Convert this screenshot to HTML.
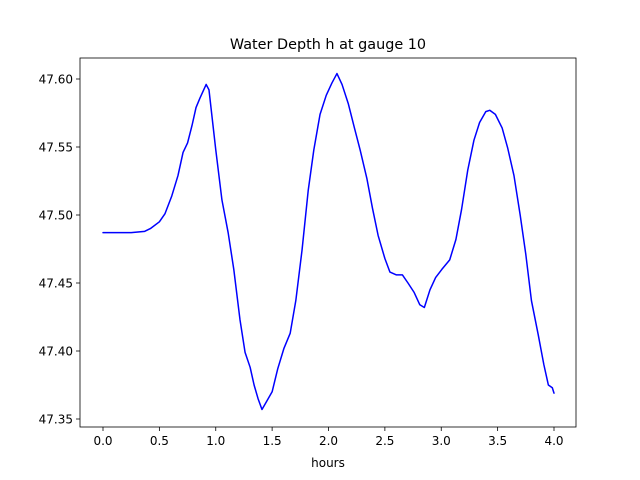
<!DOCTYPE html>
<html><head><meta charset="utf-8"><style>
body{margin:0;background:#fff;}
svg{display:block;font-family:"DejaVu Sans","Liberation Sans",sans-serif;}
</style></head><body>
<svg id="c" width="640" height="480">
<rect width="640" height="480" fill="#fff"/>
<text x="328" y="49" font-size="14.4" text-anchor="middle">Water Depth h at gauge 10</text>
<text x="328" y="467" font-size="12" text-anchor="middle">hours</text>
<g id="plot"></g>
</svg>
<script>
const hours=[0,0.25,0.37,0.42,0.5,0.55,0.61,0.665,0.71,0.75,0.79,0.825,0.86,0.915,0.94,0.97,1.0,1.055,1.11,1.16,1.215,1.26,1.305,1.34,1.375,1.41,1.445,1.5,1.55,1.605,1.66,1.71,1.765,1.82,1.87,1.925,1.98,2.03,2.075,2.12,2.175,2.23,2.28,2.34,2.39,2.44,2.5,2.545,2.6,2.655,2.705,2.76,2.81,2.85,2.9,2.95,3.005,3.075,3.13,3.18,3.235,3.29,3.34,3.395,3.43,3.48,3.54,3.59,3.645,3.7,3.75,3.8,3.86,3.91,3.95,3.985,4.0];
const depth=[47.487,47.487,47.488,47.490,47.495,47.501,47.514,47.529,47.546,47.553,47.566,47.579,47.586,47.596,47.592,47.570,47.548,47.511,47.487,47.460,47.423,47.399,47.388,47.375,47.365,47.357,47.362,47.370,47.387,47.402,47.413,47.437,47.474,47.518,47.548,47.574,47.588,47.597,47.604,47.596,47.582,47.564,47.548,47.527,47.505,47.485,47.468,47.458,47.456,47.456,47.450,47.443,47.434,47.432,47.445,47.454,47.460,47.467,47.482,47.504,47.533,47.555,47.568,47.576,47.577,47.574,47.564,47.549,47.529,47.500,47.471,47.437,47.412,47.390,47.375,47.373,47.369];
const xTicks=[0,0.5,1.0,1.5,2.0,2.5,3.0,3.5,4.0];
const xTickLabels=["0.0","0.5","1.0","1.5","2.0","2.5","3.0","3.5","4.0"];
const yTicks=[47.35,47.40,47.45,47.50,47.55,47.60];
const yTickLabels=["47.35","47.40","47.45","47.50","47.55","47.60"];
const NS="http://www.w3.org/2000/svg";
const L=80,R=576,T=58,B=427;
function xs(v){return 103+v*(554-103)/4;}
function ys(v){return 419-(v-47.35)*(419-79)/0.25;}
const g=document.getElementById('plot');
function mk(t,a){const e=document.createElementNS(NS,t);for(const k in a)e.setAttribute(k,a[k]);g.appendChild(e);return e;}
xTicks.forEach((t,i)=>{
 const l=mk('line',{x1:xs(t),x2:xs(t),y1:B,y2:B+4,stroke:'#000','stroke-width':0.8});
 
 
 const tx=mk('text',{x:xs(t),y:B+18,'font-size':12,'text-anchor':'middle'});
 tx.textContent=xTickLabels[i];
 
 
});
yTicks.forEach((t,i)=>{
 const l=mk('line',{x1:L-4,x2:L,y1:ys(t),y2:ys(t),stroke:'#000','stroke-width':0.8});
 
 
 const tx=mk('text',{x:L-7,y:ys(t)+4.5,'font-size':12,'text-anchor':'end'});
 tx.textContent=yTickLabels[i];
 
 
});
const p=mk('polyline',{points:hours.map((h,i)=>xs(h)+','+ys(depth[i])).join(' '),fill:'none',stroke:'#0000ff','stroke-width':1.5,'stroke-linejoin':'round','stroke-linecap':'round'});


const f=mk('rect',{x:L,y:T,width:R-L,height:B-T,fill:'none',stroke:'#000','stroke-width':0.8});


</script>
</body></html>
